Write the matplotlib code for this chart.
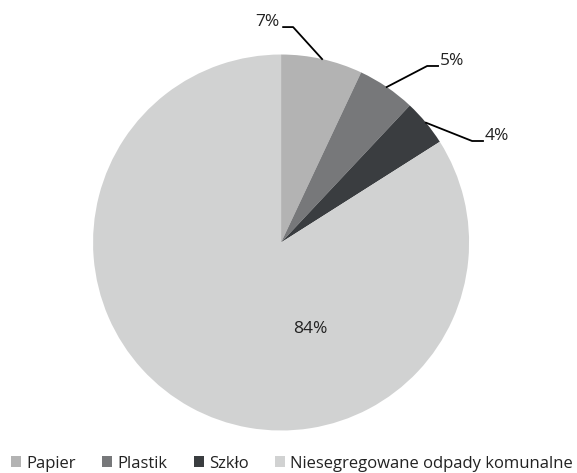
import numpy as np
import matplotlib
matplotlib.use("Agg")
import matplotlib.pyplot as plt
from matplotlib.patches import Patch

categories = ["Papier", "Plastik", "Szkło", "Niesegregowane odpady komunalne"]
values = [7, 5, 4, 84]
labels = ["7%", "5%", "4%", "84%"]
colors = ["#b3b3b3", "#77787a", "#3a3d40", "#d1d2d2"]

plt.rcParams['font.family'] = ['Open Sans', 'DejaVu Sans']

fig = plt.figure(figsize=(5.77, 4.73), dpi=100)
ax = fig.add_axes([0, 0, 1, 1])
wedges, _ = ax.pie(values, colors=colors, startangle=90, counterclock=False,
                   radius=1.0, center=(0, 0), wedgeprops=dict(linewidth=0))
ax.set_aspect('auto')
ax.set_xlim(-1.495, 1.574)
ax.set_ylim(-1.226, 1.290)
ax.axis('off')

# leader lines: (elbow, end, text position)
leaders = [
    ((0.064, 1.146), (0.011, 1.146), (-0.0745, 1.173)),
    ((0.777, 0.939), (0.835, 0.939), (0.910, 0.965)),
    ((1.016, 0.540), (1.074, 0.540), (1.149, 0.566)),
]
for i, w in enumerate(wedges[:3]):
    mid = np.deg2rad((w.theta1 + w.theta2) / 2)
    p = (np.cos(mid), np.sin(mid))
    elbow, end, tpos = leaders[i]
    ax.plot([p[0], elbow[0], end[0]], [p[1], elbow[1], end[1]], color='black', lw=1.3)
    ax.text(tpos[0], tpos[1], labels[i], ha='center', va='center', fontsize=12.5, color='#222222')

ax.text(0.154, -0.460, labels[3], ha='center', va='center', fontsize=12.5, color='#222222')

handles = [Patch(facecolor=c, edgecolor='none') for c in colors]
fig.legend(handles, categories, loc='lower left', bbox_to_anchor=(11 / 577, 0.003), ncol=4,
           frameon=False, fontsize=12, handlelength=0.6, handleheight=0.6,
           handletextpad=0.3, columnspacing=1.6, labelcolor='#222222',
           borderpad=0, borderaxespad=0)

fig.savefig("out.png", dpi=100)
